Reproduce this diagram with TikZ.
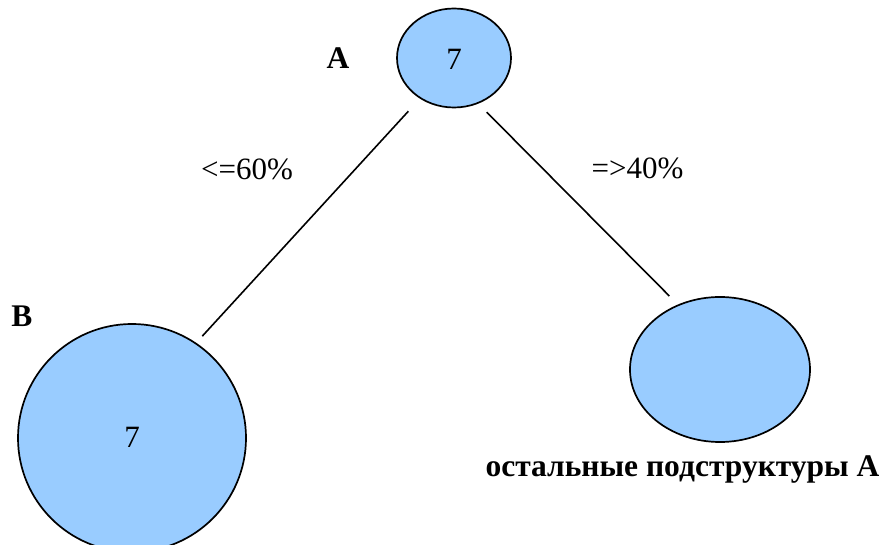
\documentclass[tikz,border=0pt]{standalone}
\usepackage{fontspec}
\setmainfont{Liberation Serif}
\usetikzlibrary{shapes.geometric}
\definecolor{nodeblue}{HTML}{99CCFF}
\tikzset{
  blob/.style={ellipse, draw=black, line width=1.7pt, fill=nodeblue, inner sep=0pt},
  lbl/.style={anchor=base, inner sep=0pt, font=\fontsize{31}{37}\selectfont},
  blbl/.style={lbl, font=\fontsize{31.5}{37}\selectfont\bfseries},
  edge/.style={line width=1.6pt}
}
\begin{document}
\begin{tikzpicture}[x=1pt,y=-1pt]
\useasboundingbox (0,0) rectangle (887,545);
\node[blob, minimum width=114pt, minimum height=99pt] (A) at (454,58) {};
\node[blob, minimum width=228pt, minimum height=228pt] (B) at (132,438) {};
\node[blob, minimum width=180pt, minimum height=145pt] (C) at (720,369.5) {};
\node[lbl] (a7) at (454,70) {7};
\node[lbl] (b7) at (132,447) {7};
\node[blbl] (Alab) at (338,69) {A};
\node[blbl] (Blab) at (22,327) {B};
\node[lbl] (l60) at (247,180) {<=60\%};
\node[lbl] (l40) at (637.5,179) {=>40\%};
\node[blbl] (rest) at (682.5,476) {остальные подструктуры А};
\draw[edge, shorten <=17pt, shorten >=9pt] (A.230) -- (B.56);
\draw[edge, shorten <=12pt, shorten >=12pt] (A.298) -- (C.123);
\end{tikzpicture}
\end{document}
